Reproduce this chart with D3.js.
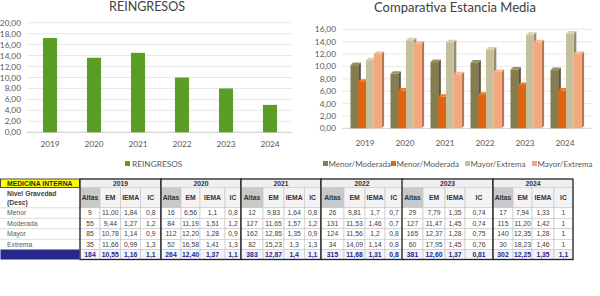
<!DOCTYPE html>
<html>
<head>
<meta charset="utf-8">
<script src="https://cdn.jsdelivr.net/npm/d3@7"></script>
<style>
  body { margin: 0; background: #fff; }
  svg { display: block; }
</style>
</head>
<body>
<div id="chart"></div>
<script>
// datos
const years = ["2019", "2020", "2021", "2022", "2023", "2024"];
const reingresos = [17.2, 13.6, 14.5, 10.0, 8.0, 5.0];
const reingresosTicks = [0, 2, 4, 6, 8, 10, 12, 14, 16, 18, 20];

const estanciaSeries = ["Menor/Moderada", "Menor/Moderada", "Mayor/Extrema", "Mayor/Extrema"];
const menorModerada1 = [10.2, 8.8, 10.7, 10.6, 9.5, 9.4];
const menorModerada2 = [7.5, 6.1, 5.1, 5.4, 7.0, 6.1];
const mayorExtrema1 = [11.0, 14.2, 13.9, 12.7, 15.1, 15.3];
const mayorExtrema2 = [12.0, 13.7, 8.7, 9.1, 13.9, 12.0];
const estanciaTicks = [0, 2, 4, 6, 8, 10, 12, 14, 16];

// tabla: [Altas, EM, IEMA, IC] por año
const tableCols = ["Altas", "EM", "IEMA", "IC"];
const rowLabels = ["Menor", "Moderada", "Mayor", "Extrema"];
const menor = [["9", "11,00", "1,84", "0,8"], ["16", "6,56", "1,1", "0,8"], ["12", "9,83", "1,64", "0,8"],
               ["26", "9,81", "1,7", "0,7"], ["29", "7,79", "1,35", "0,74"], ["17", "7,94", "1,33", "1"]];
const moderada = [["55", "9,44", "1,27", "1,2"], ["84", "11,19", "1,51", "1,2"], ["127", "11,65", "1,57", "1,2"],
                  ["131", "11,53", "1,46", "0,7"], ["127", "11,47", "1,45", "0,74"], ["115", "11,20", "1,42", "1"]];
const mayor = [["85", "10,78", "1,14", "0,9"], ["112", "12,20", "1,28", "0,9"], ["162", "12,85", "1,35", "0,9"],
               ["124", "11,56", "1,2", "0,8"], ["165", "12,37", "1,28", "0,75"], ["140", "12,35", "1,28", "1"]];
const extrema = [["35", "11,66", "0,99", "1,3"], ["52", "16,58", "1,41", "1,3"], ["82", "15,23", "1,3", "1,3"],
                 ["34", "14,09", "1,14", "0,8"], ["60", "17,95", "1,45", "0,76"], ["30", "18,23", "1,46", "1"]];
const total = [["184", "10,55", "1,16", "1,1"], ["264", "12,40", "1,37", "1,1"], ["383", "12,87", "1,4", "1,1"],
               ["315", "11,68", "1,31", "0,8"], ["381", "12,60", "1,37", "0,81"], ["302", "12,25", "1,35", "1,1"]];

const fmt = d => d3.format(".2f")(d).replace(".", ",");
const chartFont = "Lato, 'Open Sans', sans-serif";
const tableFont = "'Liberation Sans', Arial, sans-serif";

const svg = d3.select("#chart").append("svg")
    .attr("width", 600)
    .attr("height", 296);

// ---------- REINGRESOS ----------
{
    const g = svg.append("g");
    const x = d3.scaleBand().domain(years).range([28, 292]).paddingInner(0.68).paddingOuter(0.34);
    const y = d3.scaleLinear().domain([0, 20]).range([132.3, 22.7]);

    g.append("text")
        .attr("x", 147).attr("y", 11)
        .attr("text-anchor", "middle")
        .attr("font-family", chartFont).attr("font-size", 12.5)
        .attr("fill", "#404040")
        .text("REINGRESOS");

    g.selectAll(".grid").data(reingresosTicks).enter().append("line")
        .attr("x1", 27).attr("x2", 292)
        .attr("y1", d => y(d)).attr("y2", d => y(d))
        .attr("stroke", d => d === 0 ? "#bfbfbf" : "#e3e3e3")
        .attr("stroke-width", 0.8);

    g.selectAll(".ylab").data(reingresosTicks).enter().append("text")
        .attr("x", 21).attr("y", d => y(d) + 3)
        .attr("text-anchor", "end")
        .attr("font-family", chartFont).attr("font-size", 8.3)
        .attr("fill", "#595959")
        .text(fmt);

    g.selectAll(".bar").data(reingresos).enter().append("rect")
        .attr("x", (d, i) => x(years[i]))
        .attr("width", x.bandwidth())
        .attr("y", d => y(d))
        .attr("height", d => y(0) - y(d))
        .attr("fill", "#5a9e25");

    g.selectAll(".xlab").data(years).enter().append("text")
        .attr("x", d => x(d) + x.bandwidth() / 2)
        .attr("y", 147)
        .attr("text-anchor", "middle")
        .attr("font-family", chartFont).attr("font-size", 8.3)
        .attr("fill", "#595959")
        .text(d => d);

    g.append("rect").attr("x", 125).attr("y", 161).attr("width", 5).attr("height", 5).attr("fill", "#5a9e25");
    g.append("text")
        .attr("x", 132).attr("y", 166.5)
        .attr("font-family", chartFont).attr("font-size", 8.3)
        .attr("fill", "#595959")
        .text("REINGRESOS");
}

// ---------- Comparativa Estancia Media ----------
{
    const g = svg.append("g");
    const seriesData = [menorModerada1, menorModerada2, mayorExtrema1, mayorExtrema2];
    const fronts = ["#857c4f", "#e0650f", "#c6bf9c", "#f4a77c"];
    const sides = ["#5b5533", "#a44708", "#958e6e", "#b9764f"];
    const tops = ["#9a9163", "#ef7c2c", "#d7d1b2", "#f8bb97"];
    const depth = 2.6;

    const x0 = d3.scaleBand().domain(years).range([345, 585]);
    const x1 = d3.scaleBand().domain(d3.range(4)).range([5.5, 36.5]);
    const y = d3.scaleLinear().domain([0, 16]).range([128.3, 29.3]);

    g.append("text")
        .attr("x", 455).attr("y", 12)
        .attr("text-anchor", "middle")
        .attr("font-family", chartFont).attr("font-size", 13)
        .attr("fill", "#404040")
        .text("Comparativa Estancia Media");

    g.selectAll(".grid").data(estanciaTicks).enter().append("line")
        .attr("x1", 342).attr("x2", 592)
        .attr("y1", d => y(d)).attr("y2", d => y(d))
        .attr("stroke", d => d === 0 ? "#c8c8c8" : "#e3e3e3")
        .attr("stroke-width", 0.8);

    g.selectAll(".ylab").data(estanciaTicks).enter().append("text")
        .attr("x", 336).attr("y", d => y(d) + 3)
        .attr("text-anchor", "end")
        .attr("font-family", chartFont).attr("font-size", 8.3)
        .attr("fill", "#595959")
        .text(fmt);

    years.forEach((yr, i) => {
        const grp = g.append("g").attr("transform", `translate(${x0(yr)},0)`);
        seriesData.forEach((s, k) => {
            const v = s[i];
            const bx = x1(k), bw = x1.bandwidth(), by = y(v), b0 = y(0);
            // cara lateral
            grp.append("polygon")
                .attr("points", [[bx + bw, by], [bx + bw + depth, by - depth], [bx + bw + depth, b0 - depth], [bx + bw, b0]].join(" "))
                .attr("fill", sides[k]);
            // cara superior
            grp.append("polygon")
                .attr("points", [[bx, by], [bx + depth, by - depth], [bx + bw + depth, by - depth], [bx + bw, by]].join(" "))
                .attr("fill", tops[k]);
            grp.append("rect")
                .attr("x", bx).attr("y", by)
                .attr("width", bw).attr("height", b0 - by)
                .attr("fill", fronts[k]);
        });
    });

    g.selectAll(".xlab").data(years).enter().append("text")
        .attr("x", d => x0(d) + x0.bandwidth() / 2)
        .attr("y", 146)
        .attr("text-anchor", "middle")
        .attr("font-family", chartFont).attr("font-size", 8.3)
        .attr("fill", "#595959")
        .text(d => d);

    const legX = [323, 391, 465, 532];
    estanciaSeries.forEach((name, k) => {
        g.append("rect").attr("x", legX[k]).attr("y", 161).attr("width", 5).attr("height", 5).attr("fill", fronts[k]);
        g.append("text")
            .attr("x", legX[k] + 5.5).attr("y", 166.5)
            .attr("font-family", chartFont).attr("font-size", 8)
            .attr("fill", "#595959")
            .text(name);
    });
}

// ---------- Tabla ----------
{
    const g = svg.append("g").attr("font-family", tableFont);
    const blockStart = [80, 161, 241, 321, 402, 493];
    const colWidths = [[20, 20.7, 20, 20.3], [20, 19, 25, 16], [22, 21, 20.3, 16.7],
                       [23, 21, 20, 18], [21, 22, 20, 28], [20, 19, 22, 19]];
    const rowTops = [179, 187.5, 207.8, 218.3, 228.8, 239.3, 249.5, 259.5];
    const dataRows = [menor, moderada, mayor, extrema, total];
    const lineCol = "#c4c4c4";
    const labelW = 79.5;
    const labelX = 7;

    // columna de etiquetas
    g.append("rect").attr("x", 0.5).attr("y", rowTops[0]).attr("width", labelW - 0.5).attr("height", rowTops[1] - rowTops[0])
        .attr("fill", "#ffff00").attr("stroke", "#222").attr("stroke-width", 0.8);
    g.append("text").attr("x", labelX).attr("y", 185.5)
        .attr("font-size", 6.8).attr("font-weight", "bold").attr("fill", "#2a2a2a")
        .text("MEDICINA INTERNA");
    g.append("text").attr("x", labelX).attr("y", 195.5)
        .attr("font-size", 6.8).attr("font-weight", "bold").attr("fill", "#404040")
        .text("Nivel Gravedad");
    g.append("text").attr("x", labelX).attr("y", 204.5)
        .attr("font-size", 6.8).attr("font-weight", "bold").attr("fill", "#404040")
        .text("(Desc)");
    rowLabels.forEach((lab, r) => {
        g.append("line").attr("x1", 0).attr("x2", labelW).attr("y1", rowTops[r + 2]).attr("y2", rowTops[r + 2])
            .attr("stroke", lineCol).attr("stroke-width", 0.6);
        g.append("text").attr("x", labelX).attr("y", rowTops[r + 2] + 7.5)
            .attr("font-size", 6.8).attr("fill", "#595959")
            .text(lab);
    });
    g.append("rect").attr("x", 0.5).attr("y", rowTops[6]).attr("width", labelW - 0.5).attr("height", rowTops[7] - rowTops[6])
        .attr("fill", "#28288a");

    years.forEach((yr, b) => {
        const x0 = blockStart[b];
        const widths = colWidths[b];
        const edges = [x0];
        widths.forEach(w => edges.push(edges[edges.length - 1] + w));
        const x1 = edges[4];

        // fila del año
        g.append("rect").attr("x", x0).attr("y", rowTops[0]).attr("width", x1 - x0).attr("height", rowTops[1] - rowTops[0])
            .attr("fill", "#efefef");
        g.append("text").attr("x", (x0 + x1) / 2).attr("y", rowTops[0] + 6.8)
            .attr("text-anchor", "middle").attr("font-size", 6.8).attr("font-weight", "bold").attr("fill", "#333")
            .text(yr);

        // cabecera columnas
        tableCols.forEach((c, k) => {
            g.append("rect").attr("x", edges[k]).attr("y", rowTops[1]).attr("width", widths[k]).attr("height", rowTops[2] - rowTops[1])
                .attr("fill", k === 0 ? "#c9c9c9" : "#f3f3f3")
                .attr("stroke", lineCol).attr("stroke-width", 0.6);
            g.append("text").attr("x", edges[k] + widths[k] / 2).attr("y", rowTops[1] + 12.5)
                .attr("text-anchor", "middle").attr("font-size", 6.8).attr("font-weight", "bold").attr("fill", "#333")
                .text(c);
        });

        // datos
        dataRows.forEach((rows, r) => {
            const isTotal = r === 4;
            const ty = rowTops[r + 2];
            const th = rowTops[r + 3] - ty;
            rows[b].forEach((val, k) => {
                g.append("rect").attr("x", edges[k]).attr("y", ty).attr("width", widths[k]).attr("height", th)
                    .attr("fill", isTotal ? "#f4f4f8" : "#fff")
                    .attr("stroke", lineCol).attr("stroke-width", 0.6);
                g.append("text").attr("x", edges[k] + widths[k] / 2).attr("y", ty + 7.5)
                    .attr("text-anchor", "middle").attr("font-size", 6.8)
                    .attr("font-weight", isTotal ? "bold" : "normal")
                    .attr("fill", isTotal ? "#1f1f8c" : "#404040")
                    .text(val);
            });
        });

        // borde grueso del bloque
        g.append("rect").attr("x", x0).attr("y", rowTops[0]).attr("width", x1 - x0).attr("height", rowTops[7] - rowTops[0])
            .attr("fill", "none").attr("stroke", "#222").attr("stroke-width", 1.3);
    });
}
</script>
</body>
</html>
